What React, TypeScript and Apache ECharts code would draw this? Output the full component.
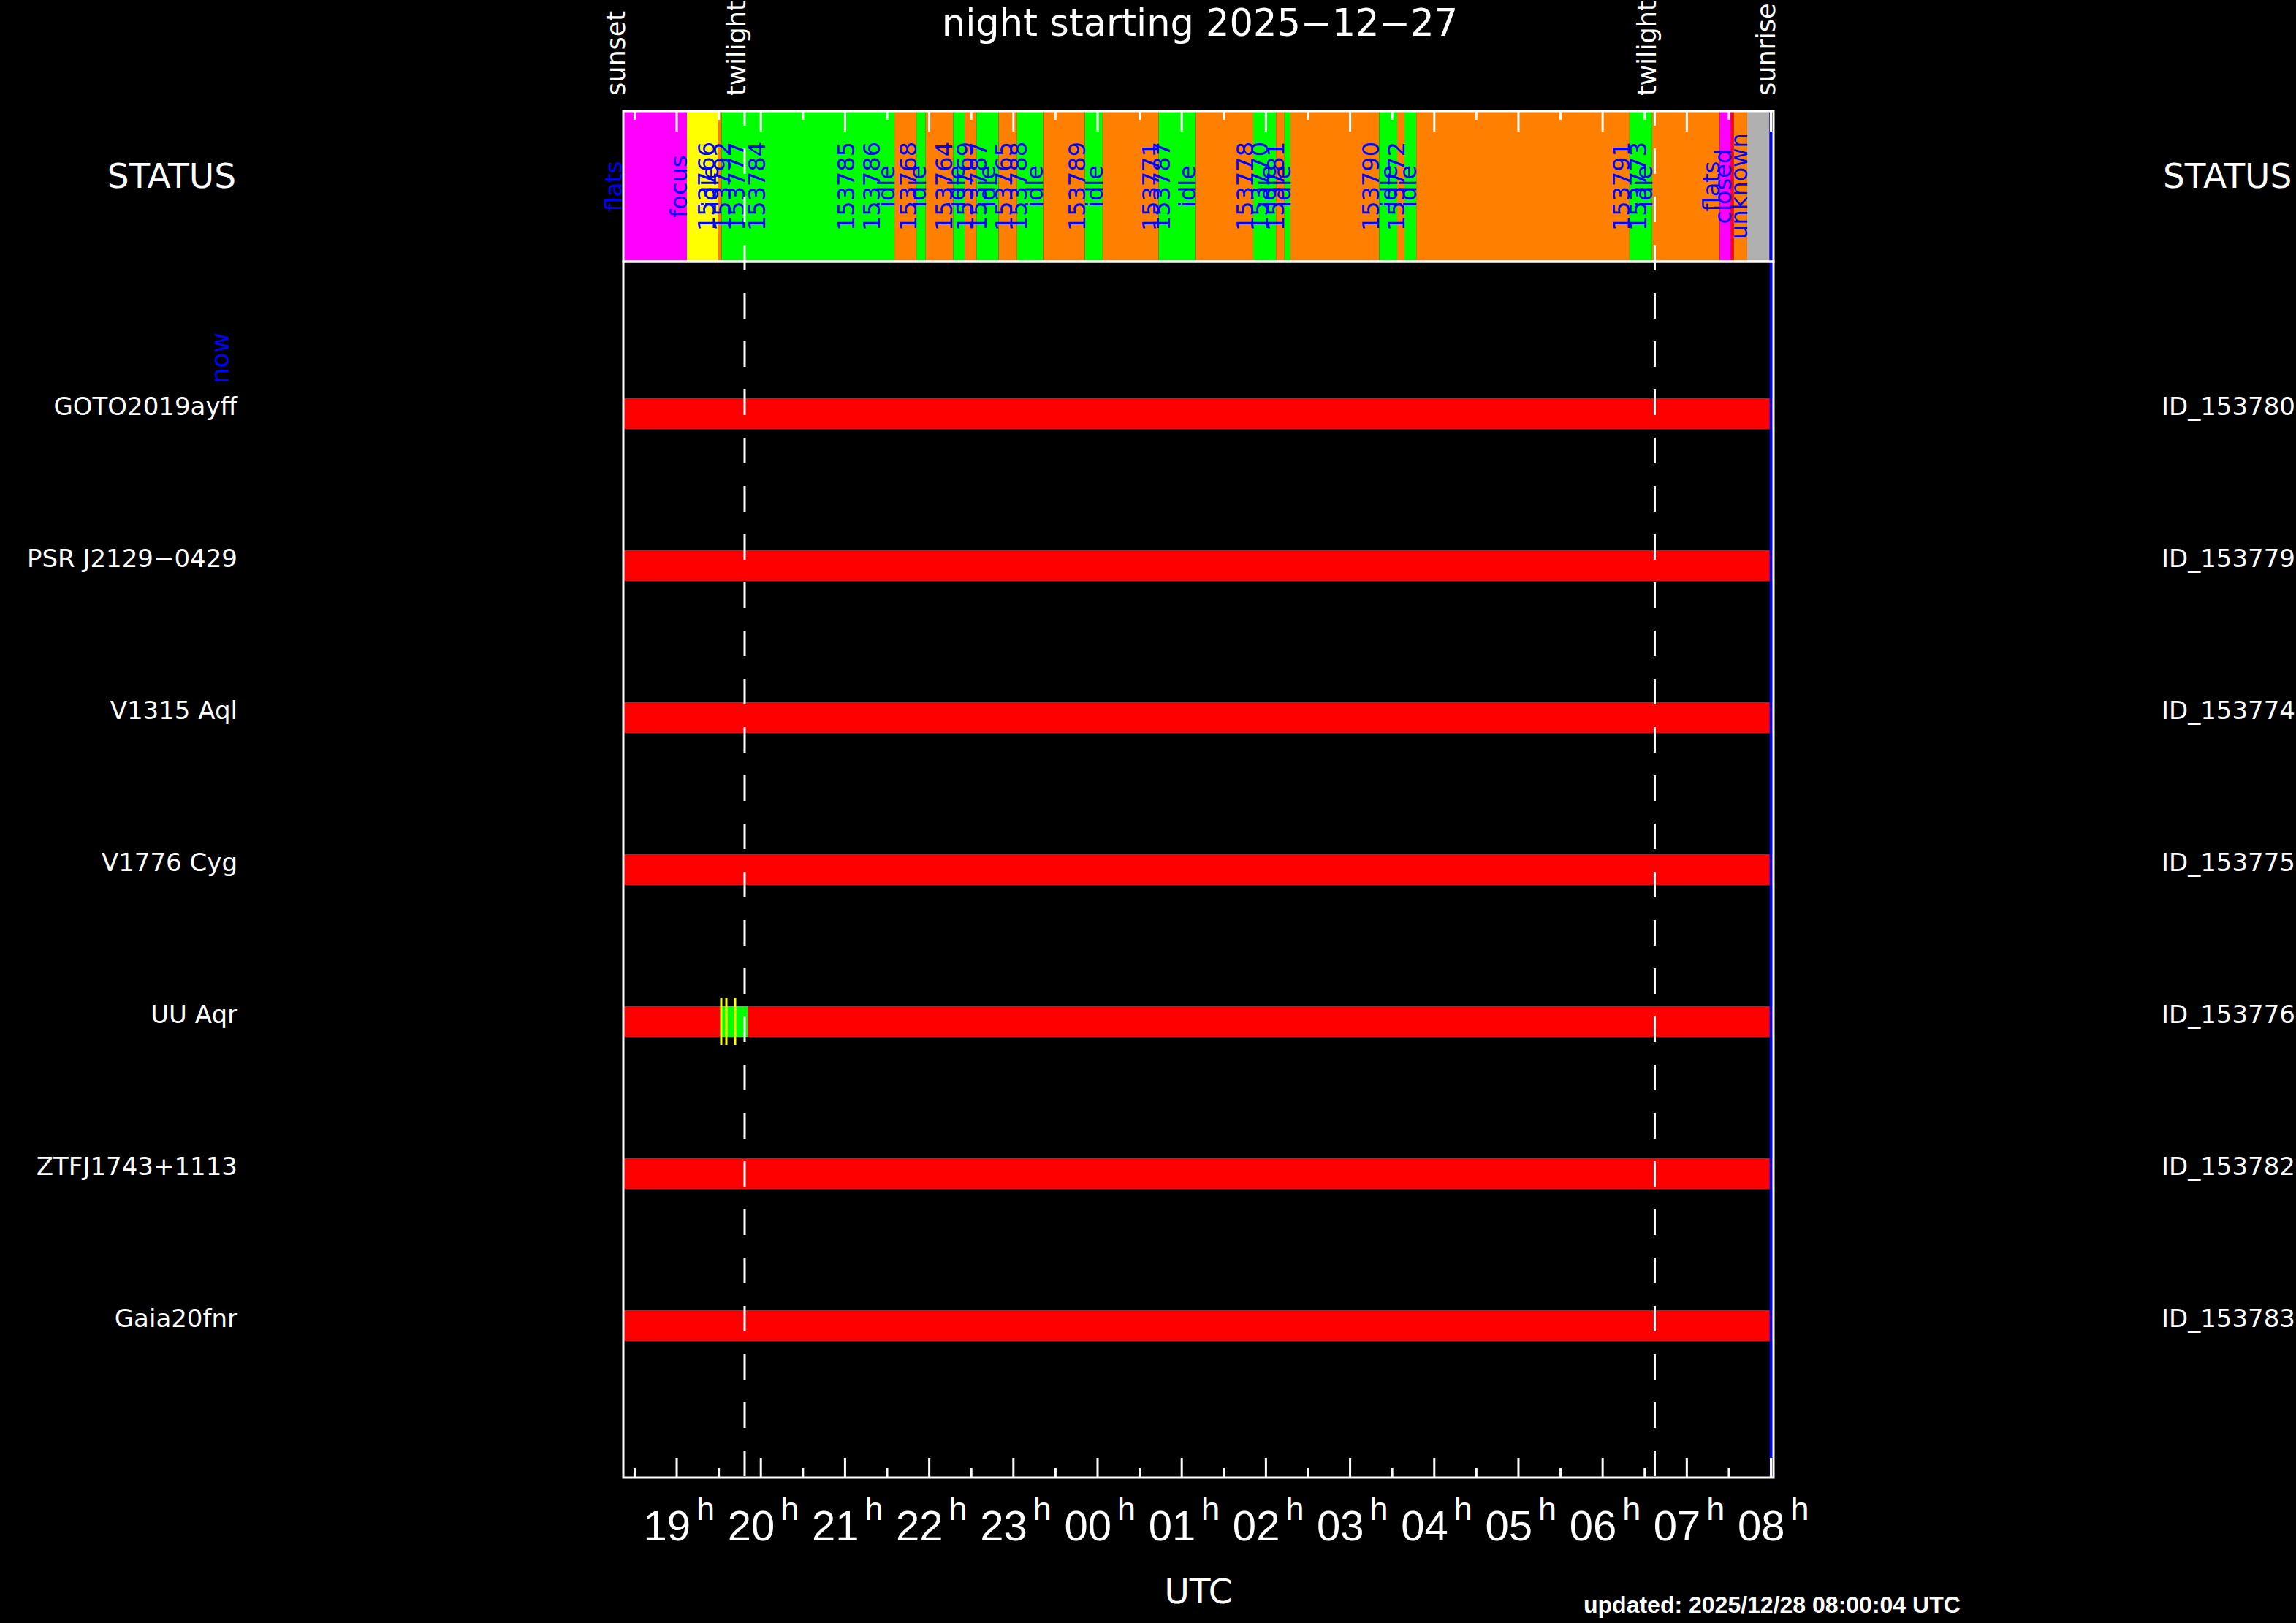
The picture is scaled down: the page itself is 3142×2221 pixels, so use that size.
import React, { useEffect, useRef } from 'react';
import * as echarts from 'echarts';

const W = 3142;
const H = 2221;
const FONT = 'DejaVu Sans';

// ---- night timing (decimal UTC hours, > 24 means after midnight) ----
const sunsetHour = 18.366;
const sunriseHour = 32.03;
const nowHour = 32.001;
const eventLabels = ['sunset', 'twilight', 'twilight', 'sunrise'];
const eventHours = [18.366, 19.807, 30.619, 32.03];
const twilightHours = [19.807, 30.619];

// ---- status bar segments ----
const statusBounds = [
  18.375, 19.121, 19.492, 19.532, 21.587, 21.848, 21.958, 22.287, 22.422, 22.561,
  22.824, 23.043, 23.353, 23.849, 24.06, 24.726, 25.166, 25.849, 26.12, 26.221,
  26.29, 27.346, 27.559, 27.646, 27.786, 30.319, 30.588, 31.389, 31.525, 31.558,
  31.717, 31.983,
];
const statusKinds = [
  'flats', 'focus', 'idle', 'obs', 'idle', 'obs', 'idle', 'obs', 'idle', 'obs',
  'idle', 'obs', 'idle', 'obs', 'idle', 'obs', 'idle', 'obs', 'idle', 'obs',
  'idle', 'obs', 'idle', 'obs', 'idle', 'obs', 'idle', 'flats', 'closed', 'idle',
  'unknown',
];
const statusColors: Record<string, string> = {
  flats: '#ff00ff',
  focus: '#ffff00',
  idle: '#ff8000',
  obs: '#00ff00',
  closed: '#ff0000',
  unknown: '#b0b0b0',
};
const statusLabelText = [
  'flats', 'focus', '153766', 'idle', '153792', '153777', '153784', '153785', '153786', 'idle',
  '153768', 'idle', '153764', 'idle', '153769', '153787', 'idle', '153765', '153788', 'idle',
  '153789', 'idle', '153771', '153787', 'idle', '153778', '153770', 'idle', '153781', 'idle',
  '153790', 'idle', '153772', 'idle', '153791', '153773', 'idle', 'flats', 'closed', 'unknown',
];
const statusLabelHours = [
  18.349, 19.121, 19.451, 19.494, 19.642, 19.807, 20.05, 21.106, 21.413, 21.587,
  21.848, 21.958, 22.27, 22.42, 22.521, 22.68, 22.784, 22.984, 23.158, 23.353,
  23.849, 24.06, 24.726, 24.856, 25.166, 25.849, 26.022, 26.12, 26.213, 26.29,
  27.346, 27.559, 27.646, 27.786, 30.319, 30.519, 30.588, 31.387, 31.525, 31.717,
];

// ---- targets ----
const targetNames = ['GOTO2019ayff', 'PSR J2129−0429', 'V1315 Aql', 'V1776 Cyg', 'UU Aqr', 'ZTFJ1743+1113', 'Gaia20fnr'];
const targetIds = ['ID_153780', 'ID_153779', 'ID_153774', 'ID_153775', 'ID_153776', 'ID_153782', 'ID_153783'];
const targetRows = [1, 2, 3, 4, 5, 6, 7];
const targetStart = [18.366, 18.366, 18.366, 18.366, 18.366, 18.366, 18.366];
const targetEnd = [32.03, 32.03, 32.03, 32.03, 32.03, 32.03, 32.03];
const obsRow = [5];
const obsStart = [19.527];
const obsEnd = [19.845];
const exposureRow = [5, 5, 5];
const exposureHours = [19.529, 19.59, 19.694];

// ---- time axis ----
const hourTicks = [19, 20, 21, 22, 23, 24, 25, 26, 27, 28, 29, 30, 31, 32];
const hourTickLabels = ['19', '20', '21', '22', '23', '00', '01', '02', '03', '04', '05', '06', '07', '08'];
const halfHourTicks = [18.5, 19.5, 20.5, 21.5, 22.5, 23.5, 24.5, 25.5, 26.5, 27.5, 28.5, 29.5, 30.5, 31.5];

// ---- layout ----
const GL = 853;
const GW = 1574;
const ST = 152;
const SH = 206;
const MT = 358;
const MH = 1664;

const txtStyle = (text: string, size: number, fill: string, align: string, valign: string, family = FONT, weight = 'normal') => ({
  text,
  fill,
  fontSize: size,
  fontFamily: family,
  fontWeight: weight,
  align,
  verticalAlign: valign,
  textAlign: align,
  textVerticalAlign: valign,
});

function buildOption(): any {
  const series: any[] = [];

  // status segments
  series.push({
    type: 'custom', xAxisIndex: 0, yAxisIndex: 0, z: 2, silent: true,
    data: statusKinds.map((k, i) => [statusBounds[i], statusBounds[i + 1]]),
    renderItem: (params: any, api: any) => {
      const a = api.coord([api.value(0), 1]);
      const b = api.coord([api.value(1), 0]);
      return {
        type: 'rect',
        shape: { x: a[0], y: a[1], width: b[0] - a[0], height: b[1] - a[1] },
        style: { fill: statusColors[statusKinds[params.dataIndex]] },
      };
    },
  });

  // status labels
  series.push({
    type: 'custom', xAxisIndex: 0, yAxisIndex: 0, z: 3, silent: true,
    data: statusLabelHours.map((h) => [h, 0.5]),
    renderItem: (params: any, api: any) => {
      const p = api.coord([api.value(0), 0.5]);
      return {
        type: 'text', x: p[0] + 5, y: p[1], rotation: Math.PI / 2,
        style: txtStyle(statusLabelText[params.dataIndex], 32, '#0000ff', 'center', 'bottom'),
      };
    },
  });

  // event labels above the status bar
  series.push({
    type: 'custom', xAxisIndex: 0, yAxisIndex: 0, z: 3, silent: true,
    data: eventHours.map((h) => [h, 1]),
    renderItem: (params: any, api: any) => {
      const p = api.coord([api.value(0), 1]);
      return {
        type: 'text', x: p[0] + 7, y: ST - 21, rotation: Math.PI / 2,
        style: txtStyle(eventLabels[params.dataIndex], 35, '#ffffff', 'left', 'bottom'),
      };
    },
  });

  // target names (left) and ids (right)
  series.push({
    type: 'custom', xAxisIndex: 1, yAxisIndex: 1, z: 3, silent: true,
    data: targetRows.map((r) => [sunsetHour, r]),
    renderItem: (params: any, api: any) => {
      const p = api.coord([api.value(0), api.value(1)]);
      const c = params.coordSys;
      return {
        type: 'group',
        children: [
          { type: 'text', x: c.x - 528, y: p[1] - 10, style: txtStyle(targetNames[params.dataIndex], 34, '#fff', 'right', 'middle') },
          { type: 'text', x: c.x + c.width + 531, y: p[1] - 10, style: txtStyle(targetIds[params.dataIndex], 34, '#fff', 'left', 'middle') },
        ],
      };
    },
  });

  // target bars
  series.push({
    type: 'custom', xAxisIndex: 1, yAxisIndex: 1, z: 2, silent: true,
    data: targetRows.map((r, i) => [targetStart[i], r, targetEnd[i]]),
    renderItem: (params: any, api: any) => {
      const a = api.coord([api.value(0), api.value(1)]);
      const b = api.coord([api.value(2), api.value(1)]);
      return { type: 'rect', shape: { x: a[0], y: a[1] - 21, width: b[0] - a[0], height: 42 }, style: { fill: '#ff0000' } };
    },
  });

  // observed segments
  series.push({
    type: 'custom', xAxisIndex: 1, yAxisIndex: 1, z: 3, silent: true,
    data: obsRow.map((r, i) => [obsStart[i], r, obsEnd[i]]),
    renderItem: (params: any, api: any) => {
      const a = api.coord([api.value(0), api.value(1)]);
      const b = api.coord([api.value(2), api.value(1)]);
      return { type: 'rect', shape: { x: a[0], y: a[1] - 21, width: b[0] - a[0], height: 42 }, style: { fill: '#00ff00' } };
    },
  });

  // exposure markers
  series.push({
    type: 'custom', xAxisIndex: 1, yAxisIndex: 1, z: 4, silent: true,
    data: exposureHours.map((h, i) => [h, exposureRow[i]]),
    renderItem: (params: any, api: any) => {
      const p = api.coord([api.value(0), api.value(1)]);
      return { type: 'line', shape: { x1: p[0], y1: p[1] - 32, x2: p[0], y2: p[1] + 32 }, style: { stroke: '#ffff00', lineWidth: 3 } };
    },
  });

  // twilight dashed lines
  series.push({
    type: 'custom', xAxisIndex: 1, yAxisIndex: 1, z: 5, silent: true,
    data: twilightHours.map((h) => [h, 8]),
    renderItem: (params: any, api: any) => {
      const p = api.coord([api.value(0), 8]);
      return {
        type: 'line',
        shape: { x1: p[0], y1: params.coordSys.y - SH, x2: p[0], y2: p[1] },
        style: { stroke: '#ffffff', lineWidth: 3, lineDash: [35, 31], lineDashOffset: 15 },
      };
    },
  });

  // now line
  series.push({
    type: 'custom', xAxisIndex: 1, yAxisIndex: 1, z: 5, silent: true,
    data: [[nowHour, 8]],
    renderItem: (params: any, api: any) => {
      const p = api.coord([api.value(0), 8]);
      return {
        type: 'line',
        shape: { x1: p[0], y1: params.coordSys.y - SH, x2: p[0], y2: p[1] },
        style: { stroke: '#0000ff', lineWidth: 4 },
      };
    },
  });

  // ticks in status bar (top, pointing down)
  series.push({
    type: 'custom', xAxisIndex: 0, yAxisIndex: 0, z: 6, silent: true,
    data: hourTicks.map((h) => [h, 1]),
    renderItem: (params: any, api: any) => {
      const p = api.coord([api.value(0), 1]);
      return { type: 'line', shape: { x1: p[0], y1: p[1], x2: p[0], y2: p[1] + 28 }, style: { stroke: '#fff', lineWidth: 3 } };
    },
  });
  series.push({
    type: 'custom', xAxisIndex: 0, yAxisIndex: 0, z: 6, silent: true,
    data: halfHourTicks.map((h) => [h, 1]),
    renderItem: (params: any, api: any) => {
      const p = api.coord([api.value(0), 1]);
      return { type: 'line', shape: { x1: p[0], y1: p[1], x2: p[0], y2: p[1] + 12 }, style: { stroke: '#fff', lineWidth: 3 } };
    },
  });

  // bottom ticks and hour labels
  series.push({
    type: 'custom', xAxisIndex: 1, yAxisIndex: 1, z: 6, silent: true,
    data: hourTicks.map((h) => [h, 8]),
    renderItem: (params: any, api: any) => {
      const p = api.coord([api.value(0), 8]);
      return {
        type: 'group',
        children: [
          { type: 'line', shape: { x1: p[0], y1: p[1], x2: p[0], y2: p[1] - 27 }, style: { stroke: '#fff', lineWidth: 3 } },
          { type: 'text', x: p[0] + 19, y: p[1] + 65, style: txtStyle(hourTickLabels[params.dataIndex], 58, '#fff', 'right', 'middle', 'Liberation Sans') },
          { type: 'text', x: p[0] + 27, y: p[1] + 42, style: txtStyle('h', 45, '#fff', 'left', 'middle', 'Liberation Sans') },
        ],
      };
    },
  });
  series.push({
    type: 'custom', xAxisIndex: 1, yAxisIndex: 1, z: 6, silent: true,
    data: halfHourTicks.map((h) => [h, 8]),
    renderItem: (params: any, api: any) => {
      const p = api.coord([api.value(0), 8]);
      return { type: 'line', shape: { x1: p[0], y1: p[1], x2: p[0], y2: p[1] - 13 }, style: { stroke: '#fff', lineWidth: 3 } };
    },
  });

  // frames
  [0, 1].forEach((gi) => {
    series.push({
      type: 'custom', xAxisIndex: gi, yAxisIndex: gi, z: 7, silent: true,
      data: [[sunsetHour, 0]],
      renderItem: (params: any) => {
        const c = params.coordSys;
        return { type: 'rect', shape: { x: c.x, y: c.y, width: c.width, height: c.height }, style: { fill: 'none', stroke: '#fff', lineWidth: 3 } };
      },
    });
  });

  const hiddenAxis = { show: false };

  return {
    animation: false,
    backgroundColor: '#000000',
    textStyle: { fontFamily: FONT },
    grid: [
      { left: GL, top: ST, width: GW, height: SH, show: false },
      { left: GL, top: MT, width: GW, height: MH, show: false },
    ],
    xAxis: [
      { type: 'value', gridIndex: 0, min: sunsetHour, max: sunriseHour, ...hiddenAxis },
      { type: 'value', gridIndex: 1, min: sunsetHour, max: sunriseHour, ...hiddenAxis },
    ],
    yAxis: [
      { type: 'value', gridIndex: 0, min: 0, max: 1, ...hiddenAxis },
      { type: 'value', gridIndex: 1, min: 0, max: 8, inverse: true, ...hiddenAxis },
    ],
    graphic: [
      { type: 'text', x: 1642, y: 31, silent: true, style: txtStyle('night starting 2025−12−27', 51, '#fff', 'center', 'middle') },
      { type: 'text', x: 323, y: 240, silent: true, style: txtStyle('STATUS', 47, '#fff', 'right', 'middle') },
      { type: 'text', x: 2960, y: 240, silent: true, style: txtStyle('STATUS', 47, '#fff', 'left', 'middle') },
      { type: 'text', x: 318, y: 490, rotation: Math.PI / 2, silent: true, style: txtStyle('now', 34, '#0000ff', 'center', 'bottom') },
      { type: 'text', x: 1640, y: 2177, silent: true, style: txtStyle('UTC', 47, '#fff', 'center', 'middle') },
      { type: 'text', x: 2167, y: 2196, silent: true, style: txtStyle('updated: 2025/12/28 08:00:04 UTC', 32, '#fff', 'left', 'middle', 'Liberation Sans', 'bold') },
    ],
    series,
  };
}

export default function App() {
  const ref = useRef<HTMLDivElement>(null);
  useEffect(() => {
    document.body.style.margin = '0';
    document.body.style.background = '#000';
    const chart = echarts.init(ref.current!, null, { renderer: 'svg', width: W, height: H });
    chart.setOption(buildOption());
    return () => chart.dispose();
  }, []);
  return <div ref={ref} style={{ position: 'fixed', left: 0, top: 0, width: W, height: H, background: '#000' }} />;
}
